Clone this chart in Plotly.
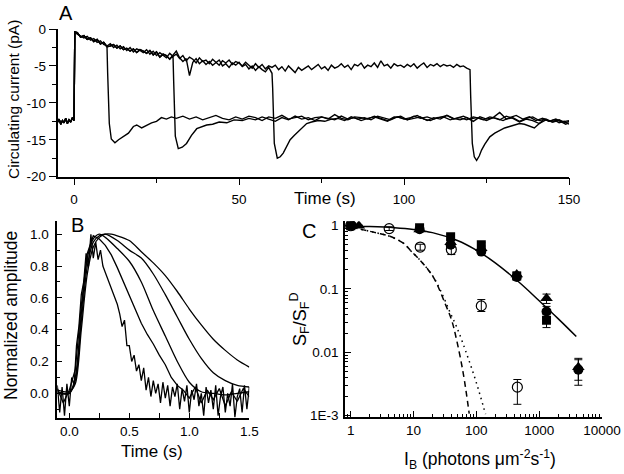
import numpy as np
import plotly.graph_objects as go

FONT = "Arial, Liberation Sans, sans-serif"

# ---------------- Panel A : circulating current traces ----------------
A_PRE_T = [-5.0, -4.5, -4.0, -3.5, -3.0, -2.5, -2.0, -1.5, -1.0, -0.5, 0.0, 0.25]
A_PRE_Y = [-12.6, -12.2, -12.9, -12.4, -12.7, -12.1, -12.8, -12.3, -12.6, -12.0, -12.4, -0.4]

# upper (light-on) segment, sampled every 1 s from t = 1 s
A_UP1 = [-0.7, -0.9, -1.2, -1.0, -1.5, -1.3, -1.8, -1.6, -2.1, -2.3,
         -2.0, -2.5, -2.2, -2.7, -2.4, -2.9, -2.5, -3.1, -2.7, -2.9,
         -3.2, -2.8, -3.4, -3.0, -3.6, -3.2, -3.5, -3.9, -3.3, -3.7,
         -3.4, -4.0, -3.6, -4.3, -3.8, -4.1, -4.6, -3.9, -4.4, -4.2,
         -4.7, -4.1, -4.5, -4.9, -4.3, -4.6, -4.2, -4.8, -4.4, -4.6,
         -5.0, -4.5, -4.9, -5.3, -4.7, -5.2, -4.8, -5.4, -5.0, -5.2,
         -4.9, -5.5, -5.1, -5.7, -5.0, -5.4, -5.9, -5.2, -5.6, -5.3,
         -5.0, -5.5, -5.2, -4.8, -5.4, -5.1, -5.6, -4.9, -5.3, -5.1,
         -4.7, -5.2, -4.9, -5.5, -4.8, -5.0, -4.6, -5.3, -4.9, -5.1,
         -4.6, -5.2, -4.3, -5.0, -4.8, -5.3, -4.7, -5.0, -4.9, -5.2,
         -4.8, -5.1, -4.7, -5.3, -4.9, -4.6, -5.2, -4.8, -5.0, -4.7,
         -5.1, -4.8, -5.0, -4.9, -5.2, -4.8, -5.1, -5.0, -5.3, -5.5]
A_UP2 = [-0.5, -1.1, -0.9, -1.4, -1.2, -1.7, -1.4, -2.0, -1.8, -2.4,
         -2.3, -2.1, -2.6, -2.3, -2.8, -2.6, -3.0, -2.7, -3.2, -2.8,
         -3.0, -3.3, -2.9, -3.5, -3.1, -3.8, -3.4, -3.6, -4.1, -3.6,
         -3.0, -3.9, -4.4, -4.0, -6.3, -4.5, -4.0, -4.7, -4.3, -4.8,
         -4.4, -4.9, -4.5, -4.2, -5.0, -4.7, -5.2, -4.6, -4.9, -4.5,
         -5.1, -4.8, -5.4, -5.0, -5.6, -5.1, -5.5, -5.8, -5.2, -6.0]

# return to darkness (light off) at 10, 30, 60, 120 s
A_R10_T = [10.2, 10.7, 11.3, 12.4, 13.5, 15.0, 16.5, 18.0, 19.0, 20.5, 22.0, 23.5, 25.0, 26.5, 28.0, 29.5]
A_R10_Y = [-6.0, -12.8, -14.9, -15.4, -15.0, -14.6, -14.1, -13.2, -13.0, -13.4, -13.0, -12.7, -12.5, -12.0, -12.2, -11.9]
A_R30_T = [30.2, 30.7, 31.6, 32.8, 34.1, 35.6, 37.2, 38.7, 40.2, 42.0, 44.0, 46.3, 48.5]
A_R30_Y = [-7.0, -14.5, -16.2, -16.0, -15.5, -14.4, -13.5, -13.2, -13.0, -12.9, -12.6, -12.7, -12.3]
A_R60_T = [60.2, 60.7, 61.6, 62.5, 63.4, 64.5, 65.5, 66.8, 68.0, 69.2, 70.5, 72.0, 74.0, 76.0, 78.0]
A_R60_Y = [-8.0, -15.5, -17.5, -17.3, -16.8, -15.8, -15.0, -14.4, -13.9, -13.3, -12.8, -12.6, -12.4, -12.5, -12.2]
A_R120_T = [120.2, 120.7, 121.3, 122.0, 122.8, 123.5, 124.5, 126.0, 127.5, 129.0, 130.5, 132.0,
            133.5, 135.0, 136.5, 138.0, 139.5, 141.0, 142.5, 144.0, 145.5, 147.0, 148.5, 150.0]
A_R120_Y = [-9.0, -15.5, -17.3, -17.8, -17.2, -16.4, -15.6, -14.6, -14.1, -13.7, -13.4, -13.2,
            -13.0, -12.8, -12.9, -13.1, -13.4, -12.8, -12.2, -12.5, -12.3, -12.7, -12.5, -12.9]

# dark-adapted tails, sampled every 2 s
A_TAIL10_START = 31
A_TAIL10 = [-12.1, -11.8, -12.2, -11.9, -12.3, -12.0, -11.7, -12.1, -12.3, -11.9,
            -12.2, -11.8, -12.0, -12.4, -11.9, -12.1, -11.7, -12.2, -12.0, -11.8,
            -12.3, -12.0, -11.9, -12.2, -11.6, -12.1, -12.3, -11.9, -12.0, -12.2,
            -11.8, -12.1, -12.4, -11.9, -12.0, -12.3, -11.8, -12.1, -11.9, -12.2,
            -12.0, -11.7, -12.2, -12.0, -12.3, -11.9, -12.1, -12.4, -12.0, -11.3,
            -12.2, -12.0, -12.5, -12.1, -11.9, -12.4, -12.2, -12.6, -12.3, -12.7]
A_TAIL30_START = 51
A_TAIL30 = [-12.4, -12.1, -12.3, -11.9, -12.2, -12.5, -12.0, -12.3, -11.8, -12.2,
            -12.0, -12.4, -11.9, -12.1, -12.3, -11.8, -12.2, -12.0, -12.4, -12.1,
            -11.9, -12.2, -12.5, -12.0, -11.8, -12.3, -12.1, -11.9, -12.4, -12.0,
            -12.2, -11.7, -12.1, -12.3, -12.0, -12.5, -11.9, -12.2, -12.0, -12.3,
            -11.8, -12.1, -12.6, -12.2, -12.4, -12.8, -12.3, -12.6, -12.4, -12.9]
A_TAIL60_START = 80
A_TAIL60 = [-12.1, -12.4, -11.9, -12.2, -12.0, -12.3, -11.8, -12.1, -12.3, -11.9,
            -12.2, -12.0, -11.7, -12.2, -12.4, -12.0, -11.9, -12.3, -12.1, -11.8,
            -12.2, -12.0, -12.3, -11.9, -12.1, -12.4, -12.0, -11.7, -12.2, -11.9,
            -12.4, -12.1, -12.5, -12.2, -12.6]

# ---------------- Panel B : normalized flash responses ----------------
B1_T0, B1_DT = -0.10, 0.02
B1_Y = [0.05, -0.12, 0.04, -0.14, 0.06, -0.08, 0.10, 0.05, 0.30, 0.42,
        0.62, 0.70, 0.88, 0.80, 1.00, 0.85, 0.95, 0.84, 0.90, 0.80,
        0.76, 0.72, 0.68, 0.64, 0.60, 0.56, 0.50, 0.42, 0.46, 0.30,
        0.30, 0.20, 0.24, 0.14, 0.18, 0.08, 0.16, 0.02, 0.10, -0.02,
        0.08, 0.00, 0.06, -0.06, 0.07, -0.03, 0.05, -0.08, 0.04, -0.02,
        0.06, -0.10, 0.03, -0.05, 0.05, -0.12, 0.02, -0.04, 0.06, -0.08,
        0.00, -0.14, 0.04, -0.06, 0.02, -0.10, 0.05, -0.14, -0.02, 0.04,
        -0.12, 0.00, -0.08, 0.06, -0.15, -0.02, 0.03, -0.12, 0.05, -0.10, 0.04]
B2_T0, B2_DT = -0.10, 0.05
B2_Y = [0.03, -0.06, 0.02, 0.15, 0.55, 0.88, 0.99, 0.97, 0.93, 0.87, 0.79,
        0.70, 0.61, 0.53, 0.44, 0.37, 0.31, 0.24, 0.18, 0.10, 0.05, 0.02,
        -0.03, 0.04, -0.06, 0.02, -0.04, 0.03, -0.08, 0.01, -0.05, 0.03, -0.02]
B3_T = [-0.1, 0.0, 0.05, 0.1, 0.15, 0.2, 0.25, 0.3, 0.4, 0.5, 0.6, 0.7, 0.8, 0.9, 1.0, 1.1, 1.2, 1.3, 1.4, 1.5]
B3_Y = [0.0, 0.0, 0.1, 0.5, 0.85, 0.97, 1.0, 0.98, 0.91, 0.83, 0.70, 0.52, 0.36, 0.2, 0.07, 0.01, 0.0, -0.01, 0.0, 0.01]
B4_T = [-0.1, 0.0, 0.05, 0.1, 0.15, 0.2, 0.25, 0.3, 0.4, 0.5, 0.6, 0.7, 0.8, 0.9, 1.0, 1.1, 1.2, 1.3, 1.4, 1.5]
B4_Y = [0.01, 0.0, 0.08, 0.45, 0.8, 0.95, 0.99, 1.0, 0.96, 0.9, 0.85, 0.75, 0.62, 0.48, 0.34, 0.22, 0.13, 0.08, 0.05, 0.04]
B5_T = [-0.1, 0.0, 0.05, 0.1, 0.15, 0.2, 0.25, 0.3, 0.35, 0.4, 0.5, 0.6, 0.7, 0.8, 0.9, 1.0, 1.1, 1.2, 1.3, 1.4, 1.5]
B5_Y = [0.02, 0.01, 0.06, 0.4, 0.75, 0.92, 0.98, 1.0, 1.0, 0.99, 0.96, 0.89, 0.82, 0.74, 0.64, 0.53, 0.43, 0.34, 0.27, 0.21, 0.165]

# ---------------- Panel C : sensitivity vs background ----------------
C_FIT_I = [0.85, 1, 2, 5, 10, 20, 50, 100, 200, 500, 1000, 2000, 3900]
C_FIT_S = [0.99, 0.986, 0.972, 0.933, 0.875, 0.778, 0.583, 0.41, 0.259, 0.123, 0.065, 0.034, 0.0177]
C_DASH_I = [1, 1.6, 2.6, 4.2, 6.9, 9.3, 12.7, 17.2, 22, 31.8, 40.5, 48.7, 62, 77]
C_DASH_S = [0.96, 0.86, 0.77, 0.68, 0.53, 0.39, 0.286, 0.2, 0.138, 0.059, 0.032, 0.0154, 0.0046, 0.00107]
C_DOT_I = [1, 1.6, 2.6, 4.2, 6.9, 9.3, 12.7, 17.2, 22, 30, 38, 48.7, 70, 101, 140]
C_DOT_S = [0.96, 0.86, 0.77, 0.68, 0.53, 0.39, 0.286, 0.2, 0.14, 0.075, 0.043, 0.025, 0.0095, 0.0032, 0.00105]

C_OPEN_I = [1.0, 4.1, 12.8, 40, 120, 450]
C_OPEN_S = [1.0, 0.9, 0.46, 0.42, 0.054, 0.0028]
C_OPEN_EP = [0.03, 0.06, 0.05, 0.04, 0.014, 0.0009]
C_OPEN_EM = [0.03, 0.06, 0.05, 0.07, 0.010, 0.0013]

C_SQ_I = [1.0, 12.5, 39, 120, 440, 1310]
C_SQ_S = [1.0, 0.93, 0.67, 0.50, 0.16, 0.032]
C_SQ_E = [0.02, 0.05, 0.05, 0.04, 0.012, 0.0075]

C_TRI_I = [1.35, 12.5, 39, 120, 440, 1310, 4200]
C_TRI_S = [1.0, 0.87, 0.55, 0.44, 0.17, 0.071, 0.0058]
C_TRI_E = [0.02, 0.05, 0.05, 0.04, 0.015, 0.012, 0.0022]

C_CIR_I = [1.05, 12.5, 39, 120, 440, 1310, 4200]
C_CIR_S = [1.0, 0.88, 0.50, 0.39, 0.155, 0.044, 0.0053]
C_CIR_E = [0.02, 0.05, 0.04, 0.03, 0.015, 0.009, 0.0023]

# ======================================================================
fig = go.Figure()
LW = 1.4
black_line = dict(color="black", width=LW)


def up_times(n):
    return [float(i + 1) for i in range(n)]


def tail_times(start, n, step):
    return [start + step * i for i in range(n)]


traces_A = [
    (A_PRE_T + up_times(10) + A_R10_T + tail_times(A_TAIL10_START, len(A_TAIL10), 2) + [150.0],
     A_PRE_Y + A_UP2[:10] + A_R10_Y + A_TAIL10 + [-12.5]),
    (A_PRE_T + up_times(30) + A_R30_T + tail_times(A_TAIL30_START, len(A_TAIL30), 2) + [150.0],
     A_PRE_Y + A_UP2[:30] + A_R30_Y + A_TAIL30 + [-12.7]),
    (A_PRE_T + up_times(60) + A_R60_T + tail_times(A_TAIL60_START, len(A_TAIL60), 2) + [150.0],
     A_PRE_Y + A_UP2[:60] + A_R60_Y + A_TAIL60 + [-12.4]),
    (A_PRE_T + up_times(120) + A_R120_T,
     A_PRE_Y + A_UP1[:120] + A_R120_Y),
]
for tx, ty in traces_A:
    fig.add_trace(go.Scatter(x=tx, y=ty, mode="lines", line=black_line,
                             xaxis="x", yaxis="y", showlegend=False, hoverinfo="skip"))

# Panel B
fig.add_trace(go.Scatter(x=tail_times(B1_T0, len(B1_Y), B1_DT), y=B1_Y, mode="lines",
                         line=dict(color="black", width=1.3), xaxis="x2", yaxis="y2",
                         showlegend=False, hoverinfo="skip"))
fig.add_trace(go.Scatter(x=tail_times(B2_T0, len(B2_Y), B2_DT), y=B2_Y, mode="lines",
                         line=dict(color="black", width=1.3), xaxis="x2", yaxis="y2",
                         showlegend=False, hoverinfo="skip"))
for bt, by in [(B3_T, B3_Y), (B4_T, B4_Y), (B5_T, B5_Y)]:
    fig.add_trace(go.Scatter(x=bt, y=by, mode="lines",
                             line=dict(color="black", width=1.3, shape="spline", smoothing=0.8),
                             xaxis="x2", yaxis="y2", showlegend=False, hoverinfo="skip"))

# Panel C lines
fig.add_trace(go.Scatter(x=C_FIT_I, y=C_FIT_S, mode="lines",
                         line=dict(color="black", width=1.5, shape="spline"),
                         xaxis="x3", yaxis="y3", showlegend=False, hoverinfo="skip"))
fig.add_trace(go.Scatter(x=C_DASH_I, y=C_DASH_S, mode="lines",
                         line=dict(color="black", width=1.5, dash="6px,4px", shape="spline"),
                         xaxis="x3", yaxis="y3", showlegend=False, hoverinfo="skip"))
fig.add_trace(go.Scatter(x=C_DOT_I, y=C_DOT_S, mode="lines",
                         line=dict(color="black", width=1.5, dash="1.5px,4px", shape="spline"),
                         xaxis="x3", yaxis="y3", showlegend=False, hoverinfo="skip"))

err_style = dict(type="data", color="black", thickness=1, width=4, visible=True)
fig.add_trace(go.Scatter(x=C_OPEN_I, y=C_OPEN_S, mode="markers",
                         marker=dict(symbol="circle-open", size=10, color="black", line=dict(width=1.2)),
                         error_y=dict(array=C_OPEN_EP, arrayminus=C_OPEN_EM, **err_style),
                         xaxis="x3", yaxis="y3", showlegend=False, hoverinfo="skip"))
fig.add_trace(go.Scatter(x=C_SQ_I, y=C_SQ_S, mode="markers",
                         marker=dict(symbol="square", size=9, color="black"),
                         error_y=dict(array=C_SQ_E, **err_style),
                         xaxis="x3", yaxis="y3", showlegend=False, hoverinfo="skip"))
fig.add_trace(go.Scatter(x=C_TRI_I, y=C_TRI_S, mode="markers",
                         marker=dict(symbol="triangle-up", size=11, color="black"),
                         error_y=dict(array=C_TRI_E, **err_style),
                         xaxis="x3", yaxis="y3", showlegend=False, hoverinfo="skip"))
fig.add_trace(go.Scatter(x=C_CIR_I, y=C_CIR_S, mode="markers",
                         marker=dict(symbol="circle", size=10, color="black"),
                         error_y=dict(array=C_CIR_E, **err_style),
                         xaxis="x3", yaxis="y3", showlegend=False, hoverinfo="skip"))

W, H = 624, 474


def px(x):
    return x / W


def py(y):
    return 1 - y / H


tickfont = dict(family=FONT, size=13.5, color="black")
common = dict(showline=True, linecolor="black", linewidth=1.5, showgrid=False, zeroline=False,
              tickcolor="black", tickwidth=1.2, tickfont=tickfont, fixedrange=True,
              automargin=False)

log_minor = [m * 10 ** k for k in range(-3, 5) for m in range(2, 10)]

fig.update_layout(
    width=W, height=H, margin=dict(l=0, r=0, t=0, b=0, autoexpand=False),
    paper_bgcolor="white", plot_bgcolor="white", showlegend=False,
    font=dict(family=FONT, color="black"),
    xaxis=dict(domain=[px(57.5), px(569)], range=[-5, 150], anchor="y",
               tickmode="array", tickvals=[0, 50, 100, 150], ticktext=["0", "50", "100", "150"],
               ticks="outside", ticklen=7, ticklabelstandoff=2,
               minor=dict(tickmode="linear", tick0=0, dtick=25, ticks="outside", ticklen=5,
                          tickcolor="black", tickwidth=1.2, showgrid=False),
               **common),
    yaxis=dict(domain=[py(176.7), py(29)], range=[-20, 0], anchor="x",
               tickmode="array", tickvals=[0, -5, -10, -15, -20],
               ticktext=["0", "-5", "-10", "-15", "-20"],
               ticks="outside", ticklen=7, ticklabelstandoff=0,
               minor=dict(tickmode="linear", tick0=0, dtick=2.5, ticks="outside", ticklen=4,
                          tickcolor="black", tickwidth=1.2, showgrid=False),
               **common),
    xaxis2=dict(domain=[px(57.3), px(249.3)], range=[-0.1, 1.5], anchor="y2",
                tickmode="array", tickvals=[0, 0.5, 1.0, 1.5], ticktext=["0.0", "0.5", "1.0", "1.5"],
                ticks="inside", ticklen=5, ticklabelstandoff=0,
                minor=dict(tickmode="linear", tick0=0, dtick=0.25, ticks="inside", ticklen=5,
                           tickcolor="black", tickwidth=1.2, showgrid=False),
                **common),
    yaxis2=dict(domain=[py(417.7), py(221)], range=[-0.153, 1.083], anchor="x2",
                tickmode="array", tickvals=[0, 0.2, 0.4, 0.6, 0.8, 1.0],
                ticktext=["0.0", "0.2", "0.4", "0.6", "0.8", "1.0"],
                ticks="inside", ticklen=5, ticklabelstandoff=4,
                minor=dict(tickmode="linear", tick0=0, dtick=0.1, ticks="inside", ticklen=3,
                           tickcolor="black", tickwidth=1.2, showgrid=False),
                **common),
    xaxis3=dict(domain=[px(345), px(602)], type="log", range=[-0.09, 4.0], anchor="y3",
                tickmode="array", tickvals=[1, 10, 100, 1000, 10000],
                ticktext=["1", "10", "100", "1000", "10000"],
                ticks="inside", ticklen=6, ticklabelstandoff=0,
                minor=dict(tickmode="array", tickvals=log_minor, ticks="inside", ticklen=3,
                           tickcolor="black", tickwidth=1.2, showgrid=False),
                **common),
    yaxis3=dict(domain=[py(416.7), py(221.3)], type="log", range=[-3.02, 0.07], anchor="x3",
                tickmode="array", tickvals=[0.001, 0.01, 0.1, 1],
                ticktext=["1E-3", "0.01", "0.1", "1"],
                ticks="inside", ticklen=6, ticklabelstandoff=2,
                minor=dict(tickmode="array", tickvals=log_minor, ticks="inside", ticklen=3,
                           tickcolor="black", tickwidth=1.2, showgrid=False),
                **common),
)

ann = []


def add_text(text, x, y, size, angle=0):
    ann.append(dict(text=text, x=px(x), y=py(y), xref="paper", yref="paper",
                    xanchor="center", yanchor="middle", showarrow=False, textangle=angle,
                    font=dict(family=FONT, size=size, color="black")))


add_text("A", 66, 13, 20)
add_text("B", 77, 225, 20)
add_text("C", 309, 231, 20)
add_text("Circulating current (pA)", 14, 100, 15.5, -90)
add_text("Time (s)", 324.5, 198, 17)
add_text("Normalized amplitude", 11, 316, 17.5, -90)
add_text("Time (s)", 151.7, 451, 17)
add_text("S<sub>F</sub>/S<sub>F</sub><sup>D</sup>", 299, 319, 18, -90)
add_text("I<sub>B</sub> (photons \u03bcm<sup>-2</sup>s<sup>-1</sup>)", 480, 459, 17.5)
fig.update_layout(annotations=ann)

fig.write_html("out.html", config={"displayModeBar": False},
               post_script="document.body.style.margin='0px';document.body.style.padding='0px';")
